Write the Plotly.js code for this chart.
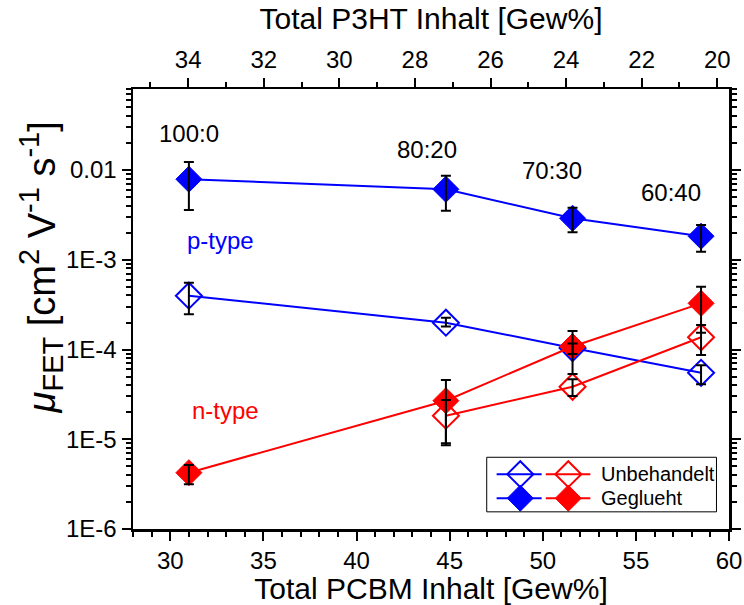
<!DOCTYPE html>
<html>
<head>
<meta charset="utf-8">
<script src="https://cdn.plot.ly/plotly-3.0.1.min.js"></script>
<style>html,body{margin:0;padding:0;background:#fff;}#chart{width:744px;height:605px;}</style>
</head>
<body>
<div id="chart"></div>
<script>
// ---- data ----
const pcbm      = [31, 44.8, 51.6, 58.5];     // Total PCBM Inhalt [Gew%]
const pcbmNOpen = [44.8, 51.6, 58.5];

// p-type, geglueht (filled blue)
const pFill    = [7.9e-3, 6.1e-3, 2.9e-3, 1.83e-3];
const pFillHi  = [1.23e-2, 8.65e-3, 3.8e-3, 2.44e-3];
const pFillLo  = [3.59e-3, 3.52e-3, 2.02e-3, 1.23e-3];
// p-type, unbehandelt (open blue)
const pOpen    = [3.98e-4, 1.99e-4, 1.04e-4, 5.5e-5];
const pOpenHi  = [5.56e-4, 2.26e-4, 1.17e-4, 6.7e-5];
const pOpenLo  = [2.47e-4, 1.80e-4, 8.9e-5, 4.1e-5];
// n-type, geglueht (filled red)
const nFill    = [4.24e-6, 2.69e-5, 1.08e-4, 3.27e-4];
const nFillHi  = [5.16e-6, 4.57e-5, 1.61e-4, 5.0e-4];
const nFillLo  = [3.15e-6, 8.6e-6, 5.33e-5, 1.54e-4];
// n-type, unbehandelt (open red)
const nOpen    = [1.83e-5, 3.85e-5, 1.37e-4];
const nOpenHi  = [2.74e-5, 4.66e-5, 1.875e-4];
const nOpenLo  = [9.0e-6, 3.03e-5, 8.7e-5];

const yTickVals = [1e-6, 1e-5, 1e-4, 1e-3, 1e-2];
const yTickText = ['1E-6', '1E-5', '1E-4', '1E-3', '0.01'];
const ratioLabels = ['100:0', '80:20', '70:30', '60:40'];

// ---- styling ----
const BLUE = '#0000FF', RED = '#FF0000';
const FONT = 'Liberation Sans, Arial, sans-serif';

function plus(v, hi) { return v.map((a, i) => hi[i] - a); }
function minus(v, lo) { return v.map((a, i) => a - lo[i]); }

function series(x, y, color, open) {
  return {
    x: x, y: y, type: 'scatter', mode: 'lines+markers', cliponaxis: false,
    line: {color: color, width: 2},
    marker: {symbol: open ? 'diamond-open' : 'diamond', size: 20, color: color,
             line: {color: color, width: open ? 2 : 1}},
    hoverinfo: 'x+y', showlegend: false
  };
}
function errs(x, y, hi, lo) {
  return {
    x: x, y: y, type: 'scatter', mode: 'markers', cliponaxis: false,
    marker: {size: 1, color: 'rgba(0,0,0,0)'},
    error_y: {type: 'data', symmetric: false, array: plus(y, hi), arrayminus: minus(y, lo),
              color: '#000', thickness: 2, width: 5},
    hoverinfo: 'skip', showlegend: false
  };
}

// legend samples drawn in a small helper subplot (x3/y3, range 0..1)
const legRowY = [0.69, 0.25];
function legLine(x0, x1, yy, color) {
  return {x: [x0, x1], y: [yy, yy], xaxis: 'x3', yaxis: 'y3', type: 'scatter', mode: 'lines',
          line: {color: color, width: 2}, hoverinfo: 'skip', showlegend: false};
}
function legMark(xx, yy, color, open) {
  return {x: [xx], y: [yy], xaxis: 'x3', yaxis: 'y3', type: 'scatter', mode: 'markers',
          marker: {symbol: open ? 'diamond-open' : 'diamond', size: 20, color: color,
                   line: {color: color, width: open ? 2 : 1}},
          hoverinfo: 'skip', showlegend: false};
}

const minorY = [];
for (let e = -6; e <= -2; e++) for (let d = 2; d <= 9; d++) minorY.push(d * Math.pow(10, e));

const data = [
  series(pcbm, pOpen, BLUE, true),
  series(pcbm, pFill, BLUE, false),
  series(pcbmNOpen, nOpen, RED, true),
  series(pcbm, nFill, RED, false),
  errs(pcbm, pOpen, pOpenHi, pOpenLo),
  errs(pcbm, pFill, pFillHi, pFillLo),
  errs(pcbmNOpen, nOpen, nOpenHi, nOpenLo),
  errs(pcbm, nFill, nFillHi, nFillLo),
  // empty trace so that the top (P3HT) axis gets drawn
  {x: [], y: [], xaxis: 'x2', yaxis: 'y', type: 'scatter', mode: 'markers', showlegend: false, hoverinfo: 'skip'},
  legLine(0.043, 0.239, legRowY[0], BLUE), legMark(0.146, legRowY[0], BLUE, true),
  legLine(0.257, 0.451, legRowY[0], RED),  legMark(0.355, legRowY[0], RED, true),
  legLine(0.043, 0.239, legRowY[1], BLUE), legMark(0.146, legRowY[1], BLUE, false),
  legLine(0.257, 0.451, legRowY[1], RED),  legMark(0.355, legRowY[1], RED, false)
];

const axisCommon = {
  showgrid: false, zeroline: false, showline: true, linecolor: '#000', linewidth: 2.5,
  ticks: 'outside', ticklen: 9, tickwidth: 2, tickcolor: '#000',
  tickfont: {family: FONT, size: 24, color: '#000'}
};

const ratioPos = [[31, -1.598], [43.77, -1.766], [50.52, -2.008], [56.91, -2.25]];
const annotations = ratioLabels.map((t, i) => ({
  text: t, x: ratioPos[i][0], y: ratioPos[i][1], xref: 'x', yref: 'y', showarrow: false,
  font: {family: FONT, size: 24, color: '#000'}
}));
const S = (t) => '<span style="font-size:29px">' + t + '</span>';
annotations.push(
  {text: 'p-type', x: 32.72, y: -2.78, xref: 'x', yref: 'y', showarrow: false,
   font: {family: FONT, size: 24, color: BLUE}},
  {text: 'n-type', x: 32.94, y: -4.674, xref: 'x', yref: 'y', showarrow: false,
   font: {family: FONT, size: 24, color: RED}},
  {text: '<i>μ</i><sub>' + S('FET') + '</sub> [cm<sup>' + S('2') + '</sup> V<sup>' + S('-1') +
         '</sup> s<sup>' + S('-1') + '</sup>]',
   x: -0.154, y: 0.595, xref: 'paper', yref: 'paper', textangle: -90, showarrow: false,
   xanchor: 'center', yanchor: 'middle', font: {family: FONT, size: 38, color: '#000'}},
  {text: 'Unbehandelt', x: 0.49, y: legRowY[0], xref: 'x3', yref: 'y3', xanchor: 'left',
   showarrow: false, font: {family: FONT, size: 20, color: '#000'}},
  {text: 'Geglueht', x: 0.49, y: legRowY[1], xref: 'x3', yref: 'y3', xanchor: 'left',
   showarrow: false, font: {family: FONT, size: 20, color: '#000'}}
);

const layout = {
  width: 744, height: 605,
  margin: {l: 133, r: 15, t: 89, b: 76, pad: 0},
  paper_bgcolor: '#fff', plot_bgcolor: '#fff',
  font: {family: FONT, color: '#000'},
  showlegend: false,
  xaxis: Object.assign({}, axisCommon, {
    range: [28, 60], tick0: 30, dtick: 5, mirror: false,
    minor: {dtick: 1, ticks: 'outside', ticklen: 5, tickwidth: 2, tickcolor: '#000', showgrid: false},
    title: {text: 'Total PCBM Inhalt [Gew%]', font: {family: FONT, size: 30, color: '#000'}, standoff: 8}
  }),
  xaxis2: Object.assign({}, axisCommon, {
    overlaying: 'x', side: 'top', anchor: 'y', range: [35.46, 19.69], tick0: 20, dtick: 2,
    minor: {dtick: 1, ticks: 'outside', ticklen: 5, tickwidth: 2, tickcolor: '#000', showgrid: false},
    title: {text: 'Total P3HT Inhalt [Gew%]', font: {family: FONT, size: 30, color: '#000'}, standoff: 8}
  }),
  yaxis: Object.assign({}, axisCommon, {
    type: 'log', range: [-6, -1.097], mirror: 'ticks',
    tickmode: 'array', tickvals: yTickVals, ticktext: yTickText,
    minor: {tickmode: 'array', tickvals: minorY, ticks: 'outside', ticklen: 5, tickwidth: 2,
            tickcolor: '#000', showgrid: false}
  }),
  xaxis3: {domain: [0.5935, 0.979], range: [0, 1], anchor: 'y3', visible: false, fixedrange: true},
  yaxis3: {domain: [0.039, 0.163], range: [0, 1], anchor: 'x3', visible: false, fixedrange: true},
  shapes: [{type: 'rect', xref: 'paper', yref: 'paper', x0: 0.5935, x1: 0.979, y0: 0.039, y1: 0.163,
            line: {color: '#000', width: 1}, fillcolor: 'rgba(0,0,0,0)'}],
  annotations: annotations
};

Plotly.newPlot('chart', data, layout, {staticPlot: true, displayModeBar: false});
</script>
</body>
</html>
